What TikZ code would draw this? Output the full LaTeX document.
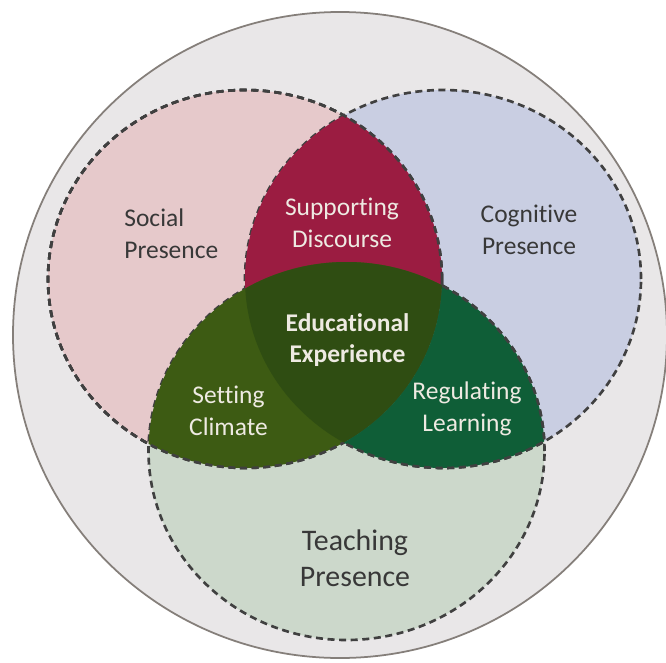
\documentclass[tikz,border=0pt]{standalone}
\usepackage{fontspec}
\setmainfont{Carlito}[Ligatures=NoCommon]
\definecolor{outerfill}{HTML}{E9E7E8}
\definecolor{outerline}{HTML}{857F7A}
\definecolor{socialfill}{HTML}{E6C9CB}
\definecolor{cogfill}{HTML}{C9CEE2}
\definecolor{teachfill}{HTML}{CCD8CB}
\definecolor{discfill}{HTML}{9B1C41}
\definecolor{climfill}{HTML}{3D5B13}
\definecolor{regfill}{HTML}{0F5E37}
\definecolor{expfill}{HTML}{2F4D12}
\definecolor{darktext}{HTML}{383838}
\definecolor{lighttext}{HTML}{EEEAE2}
% the three presences
\newcommand{\socialshape}{(4.9,7.66) ellipse [x radius=3.94, y radius=3.78]}
\newcommand{\cogshape}{(8.86,7.66) ellipse [x radius=3.96, y radius=3.78]}
\newcommand{\teachshape}{(6.93,4.22) ellipse [x radius=3.96, y radius=3.78]}
\newcommand{\everywhere}{(-1,-1) rectangle (15,15)}
\begin{document}
\begin{tikzpicture}[dashline/.style={draw=black!75, line width=1.5pt, dash pattern=on 4pt off 2.6pt},
  lbl/.style={font=\fontsize{14.5}{18}\selectfont, align=center, text=darktext, inner sep=0pt},
  light lbl/.style={lbl, text=lighttext}]
\useasboundingbox (0,0) rectangle (13.32,13.24);
\fill [white] (0,0) rectangle (13.32,13.24);
\draw [fill=outerfill, draw=outerline, line width=1pt] (6.8,6.54) ellipse [x radius=6.54, y radius=6.46];
\fill [socialfill] \socialshape;
\fill [cogfill] \cogshape;
\fill [teachfill] \teachshape;
\draw [dashline] \socialshape;
\draw [dashline] \cogshape;
\draw [dashline] \teachshape;
% overlaps
\begin{scope}
\clip \socialshape;
\fill [discfill] \cogshape;
\fill [climfill] \teachshape;
\clip \cogshape;
\fill [expfill] \teachshape;
\end{scope}
\begin{scope}[even odd rule]
\clip \cogshape;
\clip \everywhere \socialshape;
\fill [regfill] \teachshape;
\end{scope}
% dashed borders on top of the overlaps
\begin{scope}[even odd rule]
\clip \everywhere \cogshape;
\draw [dashline] \socialshape;
\end{scope}
\begin{scope}[even odd rule]
\clip \everywhere \teachshape;
\draw [dashline] \socialshape;
\end{scope}
\begin{scope}[even odd rule]
\clip \teachshape;
\clip \everywhere \socialshape;
\draw [dashline] \cogshape;
\end{scope}
\begin{scope}[even odd rule]
\clip \cogshape;
\clip \everywhere \socialshape;
\draw [dashline] \teachshape;
\end{scope}
% labels
\node [lbl, align=left, anchor=west] (social) at (2.48,8.56) {Social\\Presence};
\node [lbl] (cognitive) at (10.58,8.64) {Cognitive\\Presence};
\node [lbl, font=\fontsize{17}{20.5}\selectfont] (teaching) at (7.1,2.08) {Teaching\\Presence};
\node [light lbl] (discourse) at (6.84,8.78) {Supporting\\Discourse};
\node [light lbl] (climate) at (4.57,5.02) {Setting\\Climate};
\node [light lbl] (regulating) at (9.34,5.06) {Regulating\\Learning};
\node [light lbl, font=\fontsize{14.5}{18}\selectfont\bfseries] (experience) at (6.95,6.44) {Educational\\Experience};
\end{tikzpicture}
\end{document}
